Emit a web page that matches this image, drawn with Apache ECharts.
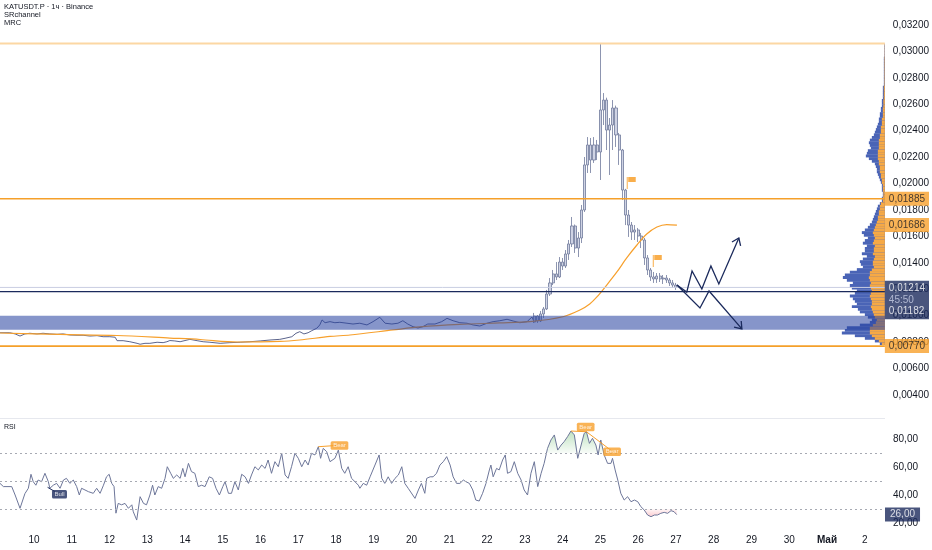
<!DOCTYPE html>
<html><head><meta charset="utf-8">
<script src="https://cdn.jsdelivr.net/npm/echarts@6/dist/echarts.min.js"></script>
<style>html,body{margin:0;padding:0;background:#fff}#c{width:932px;height:550px}</style>
</head><body><div id="c"></div><script>
// ---------- data ----------
const dayTicks = [10,11,12,13,14,15,16,17,18,19,20,21,22,23,24,25,26,27,28,29,30,31,32];
const priceTicks = [0.004,0.006,0.008,0.010,0.012,0.014,0.016,0.018,0.020,0.022,0.024,0.026,0.028,0.030,0.032];
const rsiTicks = [20,40,60,80];
const rsiLevels = [70,50,30];

// close path (April days, price) for the quiet part
const closeLine = [
[9.10,0.00871],[9.36,0.00871],[9.50,0.00862],[9.63,0.00846],[9.76,0.00862],[9.89,0.00867],[10.08,0.00862],[10.24,0.00867],
[10.42,0.00862],[10.61,0.00859],[10.77,0.00862],[10.95,0.00854],[11.14,0.00852],[11.30,0.00852],[11.48,0.00846],[11.67,0.00849],
[11.83,0.00841],[12.01,0.00841],[12.15,0.00837],[12.20,0.00811],[12.36,0.00811],[12.54,0.00803],[12.73,0.00791],[12.81,0.00784],
[12.94,0.00791],[13.07,0.00791],[13.26,0.00799],[13.42,0.00796],[13.52,0.00803],[13.60,0.00812],[13.73,0.00809],[13.87,0.00803],
[14.13,0.00821],[14.32,0.00811],[14.48,0.00803],[14.66,0.00799],[14.93,0.00791],[15.19,0.00796],[15.46,0.00799],[15.72,0.00803],
[15.99,0.00809],[16.25,0.00816],[16.51,0.00821],[16.65,0.00829],[16.83,0.00841],[16.94,0.00867],[17.04,0.00879],[17.15,0.00862],
[17.26,0.00871],[17.36,0.00887],[17.49,0.00905],[17.57,0.00930],[17.63,0.00968],[17.71,0.00947],[17.84,0.00955],[17.97,0.00947],
[18.10,0.00950],[18.29,0.00943],[18.45,0.00937],[18.63,0.00943],[18.82,0.00930],[18.98,0.00955],[19.16,0.00988],[19.30,0.00943],
[19.48,0.00937],[19.64,0.00943],[19.77,0.00962],[19.90,0.00937],[20.04,0.00917],[20.17,0.00907],[20.30,0.00917],[20.43,0.00937],
[20.62,0.00937],[20.80,0.00955],[20.94,0.00980],[21.10,0.00962],[21.28,0.00947],[21.47,0.00943],[21.63,0.00930],[21.81,0.00922],
[22.00,0.00943],[22.16,0.00955],[22.34,0.00962],[22.53,0.00973],[22.69,0.00960],[22.87,0.00947],[23.06,0.00955],[23.19,0.00990],
[23.25,0.00952]
];

// 2h candles from 23.25: [open, close, low, high]
const candleStart = 23.25;
const candleStepDays = 1 / 12;
const candles = [
[0.00952,0.00998,0.00945,0.01021],[0.00998,0.00960,0.00945,0.01005],[0.00960,0.01013,0.00952,0.01036],[0.01013,0.01051,0.00983,0.01066],
[0.01051,0.01164,0.01043,0.01195],[0.01164,0.01248,0.01149,0.01285],[0.01248,0.01316,0.01232,0.01346],[0.01316,0.01293,0.01270,0.01406],
[0.01293,0.01406,0.01285,0.01444],[0.01406,0.01376,0.01346,0.01437],[0.01376,0.01467,0.01361,0.01497],[0.01467,0.01543,0.01422,0.01573],
[0.01543,0.01679,0.01520,0.01747],[0.01679,0.01512,0.01475,0.01690],[0.01512,0.01588,0.01444,0.01633],[0.01588,0.01800,0.01550,0.01838],
[0.01800,0.02141,0.01785,0.02201],[0.02141,0.02292,0.02080,0.02352],[0.02292,0.02178,0.02080,0.02345],[0.02178,0.02292,0.02156,0.02352],
[0.02292,0.02239,0.02178,0.02330],[0.02239,0.02557,0.02027,0.03064],[0.02557,0.02632,0.02443,0.02685],[0.02632,0.02405,0.02254,0.02650],
[0.02405,0.02443,0.02065,0.02496],[0.02443,0.02572,0.02254,0.02632],[0.02572,0.02368,0.02277,0.02590],[0.02368,0.02254,0.02141,0.02383],
[0.02254,0.01951,0.01876,0.02262],[0.01951,0.01762,0.01686,0.01960],[0.01762,0.01686,0.01596,0.01800],[0.01686,0.01633,0.01573,0.01709],
[0.01633,0.01649,0.01573,0.01686],[0.01649,0.01603,0.01558,0.01664],[0.01603,0.01573,0.01512,0.01626],[0.01573,0.01437,0.01384,0.01588],
[0.01437,0.01346,0.01308,0.01459],[0.01346,0.01293,0.01263,0.01361],[0.01293,0.01278,0.01248,0.01331],[0.01278,0.01300,0.01248,0.01323],
[0.01300,0.01278,0.01255,0.01323],[0.01278,0.01285,0.01240,0.01308],[0.01285,0.01270,0.01248,0.01308],[0.01270,0.01248,0.01225,0.01285],
[0.01248,0.01232,0.01210,0.01270],[0.01232,0.01214,0.01195,0.01248]
];

// MRC mean line
const mrcLine = [
[9.10,0.00869],[10.69,0.00858],[12.20,0.00850],[13.60,0.00831],[14.40,0.00820],[15.38,0.00801],[16.51,0.00805],[17.04,0.00816],
[17.84,0.00843],[18.37,0.00854],[19.51,0.00892],[20.22,0.00915],[21.28,0.00934],[22.34,0.00945],[23.14,0.00955],[24.01,0.00992],
[24.46,0.01043],[24.72,0.01089],[24.91,0.01142],[25.17,0.01232],[25.44,0.01331],[25.70,0.01437],[25.97,0.01535],[26.23,0.01618],
[26.50,0.01671],[26.76,0.01690],[27.03,0.01686]
];

// horizontal levels
const levelTop = 0.0306;
const levelSR = 0.01885;
const levelSupport = 0.01182;
const levelLow = 0.0077;
const bandTop = 0.0100;
const bandBottom = 0.00894;
const timeLeft = '45:50';

// drawn zigzag projections
const arrowUp = [[27.03,0.01232],[27.29,0.01179],[27.43,0.01338],[27.69,0.01202],[27.93,0.01376],[28.14,0.01240],[28.67,0.01588]];
const arrowDown = [[27.03,0.01232],[27.64,0.01058],[27.88,0.01187],[28.75,0.00900]];
const flags = [[25.70,0.02050],[26.39,0.01459]];

// volume profile, bins of 0.0002 from 0.0078
const profileStart = 0.0078;
const profileBin = 0.0002;
const profileTotal = [5,
10,20,30,43,40, 38,25,15,13,17, 20,25,27,33,28, 30,32,35,30,28, 33,35,32,38,42,
40,35,28,22,24, 25,22,18,23,20, 20,18,22,20,17, 21,23,20,17,15, 13,12,11,10,9,
8,7,5,3,3, 2,2,3,3,3, 4,5,6,7,8, 8,9,10,13,16, 19,18,17,14,15,
16,15,13,11,10, 9,8,7,6,6, 5,5,4,4,3, 3,3,2,2,2, 2,2,1,1,1,
1,1,1,1,1, 1,1,1,0.5,0.5, 0.5,0.5,0.5];
const profileOrange = [3,
6,10,13,15,15, 15,12,9,8,10, 11,12,13,14,13, 13,14,15,14,13, 14,15,14,15,16,
15,15,13,11,12, 12,11,10,12,11, 11,10,12,11,10, 11,12,11,10,9, 8,7,7,6,6,
5,5,4,2,2, 1.5,1.5,2,2,2, 3,3,4,4,5, 5,5,6,6,7, 7,7,7,6,6,
6,6,5,5,4, 4,4,3,3,3, 2,2,2,2,1.5, 1.5,1.5,1,1,1, 1,1,0.5,0.5,0.5,
0.5,0.5,0.5,0.5,0.5, 0.5,0.5,0.5,0.3,0.3, 0.3,0.3,0.3];

// RSI
const rsi = [
[9.10,48.3],[9.19,46],[9.41,46],[9.50,40],[9.63,30.5],[9.76,41],[9.85,44.8],[9.92,54.8],[9.98,49.5],[10.05,47],[10.11,50.7],[10.20,49.5],
[10.29,55.5],[10.38,49.5],[10.42,44.8],[10.51,47],[10.60,48.3],[10.69,44.8],[10.78,50.7],[10.86,51.9],[10.95,48.3],[11.04,50.7],[11.13,46],
[11.20,40],[11.26,44.8],[11.35,43.6],[11.44,42.4],[11.57,41.2],[11.66,44.8],[11.75,41.2],[11.84,47],[11.92,53],[11.99,54.8],[12.06,48.3],
[12.12,46],[12.17,27],[12.23,34],[12.32,33],[12.41,34],[12.50,30.5],[12.59,33],[12.63,28],[12.72,22.1],[12.81,38.8],[12.90,34],[12.98,33],
[13.07,40],[13.14,47],[13.20,40],[13.29,46],[13.38,44.8],[13.47,51.9],[13.53,60.2],[13.62,55.5],[13.69,51.9],[13.78,54.3],[13.87,51.9],
[13.94,59],[14.00,53],[14.09,62.6],[14.17,56.7],[14.26,55.5],[14.35,46],[14.44,47],[14.53,46],[14.64,53],[14.73,51.9],[14.82,44.8],
[14.91,40],[15.00,46],[15.06,49.5],[15.15,41.2],[15.23,41.2],[15.32,49.5],[15.41,43.6],[15.50,54.8],[15.59,53],[15.68,48.3],[15.76,54.3],
[15.85,60.2],[15.94,57.9],[16.03,61.4],[16.12,59],[16.20,65],[16.29,55.5],[16.38,63.8],[16.47,60.2],[16.56,69.8],[16.65,54.3],[16.73,51.9],
[16.82,60.2],[16.91,69.8],[17.00,66.2],[17.09,60.2],[17.18,65],[17.26,61.4],[17.35,69.8],[17.44,68.6],[17.53,74.5],[17.59,66.2],[17.66,73.3],
[17.75,71],[17.84,63.8],[17.97,66.2],[18.06,72.1],[18.15,59],[18.23,55.5],[18.32,60.2],[18.41,51.9],[18.50,49.5],[18.59,47],[18.63,44.8],
[18.72,48.3],[18.81,47],[18.90,53],[19.03,61.4],[19.14,68.6],[19.21,51.9],[19.29,48.3],[19.38,53],[19.47,48.3],[19.56,51.9],[19.65,54.3],
[19.74,60.2],[19.82,48.3],[19.91,44.8],[20.09,37.6],[20.18,43.6],[20.26,48.3],[20.35,41.2],[20.40,51.9],[20.49,53],[20.57,53],[20.66,55.5],
[20.75,61.4],[20.84,63.8],[20.93,67.4],[21.02,61.4],[21.10,53],[21.19,48.3],[21.28,48.3],[21.37,50.7],[21.44,49.5],[21.53,48.3],[21.62,43.6],
[21.70,36.4],[21.79,35.7],[21.88,41.2],[21.97,48.3],[22.06,57.9],[22.10,61.4],[22.16,53],[22.25,59],[22.32,57.9],[22.41,65],[22.48,68.6],
[22.54,55.5],[22.63,56.7],[22.72,63.8],[22.81,55.5],[22.90,50.7],[22.98,43.6],[23.07,40],[23.16,55.5],[23.25,63.8],[23.34,46],[23.43,55.5],
[23.51,62.6],[23.60,73.3],[23.69,79.3],[23.78,82.9],[23.87,72.1],[23.96,75.7],[24.04,78.1],[24.13,81.7],[24.22,85.7],[24.31,82.9],[24.40,66.2],
[24.49,75.7],[24.57,84],[24.63,85.2],[24.71,76.9],[24.79,80.5],[24.88,75.7],[24.94,68.6],[25.01,79.3],[25.10,68.6],[25.19,62.6],[25.28,62.6],
[25.32,66.2],[25.39,57.9],[25.46,50.7],[25.54,41.2],[25.63,36.4],[25.72,38.8],[25.81,35.2],[25.90,36.4],[25.99,35.2],[26.07,31.7],[26.16,29.3],
[26.25,25.7],[26.34,24.5],[26.43,25.7],[26.51,25.7],[26.60,26.9],[26.69,27.6],[26.78,26.9],[26.87,28.8],[26.95,28.1],[27.02,26.0]
];
const rsiLast = 26.0;
const overboughtSpan = [23.55, 25.35];
const oversoldSpan = [26.12, 27.05];
// divergence marks
const divLines = [
  {from:[10.36,45.5], to:[10.55,42.5], color:'#1b2a5c'},
  {from:[17.53,74.5], to:[18.02,75.4], color:'#f7a02c'},
  {from:[24.22,85.7], to:[24.63,85.2], color:'#f7a02c'},
  {from:[24.63,85.2], to:[25.30,71.5], color:'#f7a02c'}
];
const divLabels = [
  {at:[10.675,40.5], text:'Bull', bg:'#1b2a5c'},
  {at:[18.09,75.4], text:'Bear', bg:'#f7a02c'},
  {at:[24.61,88.6], text:'Bear', bg:'#f7a02c'},
  {at:[25.31,70.9], text:'Bear', bg:'#f7a02c'}
];

// ---------- chart ----------
const X0 = 9.0996, X1 = 32.537;
const FONT = 'Liberation Sans, Arial, sans-serif';
const fmtPrice = v => v.toFixed(5).replace('.', ',');
const fmtRsi = v => v.toFixed(2).replace('.', ',');
const ORANGE = '#f7a02c', NAVY = '#1b2a5c';

const chart = echarts.init(document.getElementById('c'), null, {renderer:'canvas'});

const candleData = candles.map((c, i) => [candleStart + i * candleStepDays, c[0], c[1], c[2], c[3]]);
const lastClose = candles[candles.length - 1][1];
const mrcEnd = mrcLine[mrcLine.length - 1][1];
const profileData = profileTotal.map((t, i) => [profileStart + i * profileBin, t, profileOrange[i]]);
const arrowPaths = [arrowUp, arrowDown];
const levelLines = [
  {v:levelTop, color:'#fcd7a3', width:1.8},
  {v:levelSR, color:'#f5a02a', width:1.4},
  {v:lastClose, color:'#c9cee2', width:1},
  {v:levelSupport, color:NAVY, width:1.3},
  {v:levelLow, color:'#f5a02a', width:1.6}
];

function fillSeries(points, level, stops) {
  return {
    type:'custom', xAxisIndex:1, yAxisIndex:1, silent:true, z:1, data: points,
    renderItem: function (params, api) {
      if (params.dataIndex !== 0) return null;
      const pts = points.map(p => api.coord([p[0], level > 50 ? Math.max(p[1], level) : Math.min(p[1], level)]));
      pts.push(api.coord([points[points.length - 1][0], level]));
      pts.push(api.coord([points[0][0], level]));
      return {type:'polygon', shape:{points: pts}, style:{fill: new echarts.graphic.LinearGradient(0, 0, 0, 1, stops)}};
    }
  };
}

const priceLabelBase = {show:true, position:'right', distance:0, fontSize:10, fontFamily:FONT, padding:[2,4,1,4], lineHeight:11};

const option = {
  animation:false,
  backgroundColor:'#ffffff',
  textStyle:{fontFamily:FONT},
  grid:[
    {left:0, right:47, top:0, height:418},
    {left:0, right:47, top:419, height:109}
  ],
  xAxis:[
    {type:'value', gridIndex:0, min:X0, max:X1, show:true, axisLine:{show:false}, axisTick:{show:false}, axisLabel:{show:false}, splitLine:{show:false}},
    {type:'value', gridIndex:1, min:X0, max:X1, axisLine:{show:false}, axisTick:{show:false}, splitLine:{show:false},
      axisLabel:{customValues:dayTicks, color:'#131722', fontSize:10, margin:7,
        formatter: v => v === 31 ? '{b|Май}' : String(v > 31 ? v - 30 : v),
        rich:{b:{fontWeight:'bold', fontSize:10, color:'#131722'}}}},
    {type:'value', gridIndex:0, min:0, max:885, inverse:true, show:false}
  ],
  yAxis:[
    {type:'value', gridIndex:0, position:'right', min:0.002258, max:0.033892, axisLine:{show:false}, axisTick:{show:false}, splitLine:{show:false},
      axisLabel:{customValues:priceTicks, formatter:fmtPrice, color:'#131722', fontSize:10, margin:8}},
    {type:'value', gridIndex:1, position:'right', min:16.43, max:94.29, axisLine:{show:false}, axisTick:{show:false}, splitLine:{show:false},
      axisLabel:{customValues:rsiTicks, formatter:fmtRsi, color:'#131722', fontSize:10, margin:8}}
  ],
  graphic:[
    {type:'text', left:4, top:3, style:{text:'KATUSDT.P · 1ч · Binance', fontSize:7.5, fill:'#131722', fontFamily:FONT}},
    {type:'text', left:4, top:11, style:{text:'SRchannel', fontSize:7.5, fill:'#131722', fontFamily:FONT}},
    {type:'text', left:4, top:19, style:{text:'MRC', fontSize:7.5, fill:'#131722', fontFamily:FONT}},
    {type:'text', left:4, top:424, style:{text:'RSI', fontSize:7, fill:'#131722', fontFamily:FONT}},
    {type:'rect', left:0, top:418, shape:{width:885, height:1}, style:{fill:'#e6e8ee'}}
  ],
  series:[
    // volume profile
    {type:'custom', xAxisIndex:2, yAxisIndex:0, z:3, silent:true, data:profileData, encode:{x:1, y:0},
      renderItem: function (params, api) {
        const lo = api.value(0), tot = api.value(1), org = api.value(2);
        const r = api.coord([0, lo]);
        const l = api.coord([tot, lo + profileBin]);
        const o = api.coord([org, lo + profileBin]);
        const h = r[1] - l[1] + 0.3;
        return {type:'group', children:[
          {type:'rect', shape:{x:l[0], y:l[1], width:r[0]-l[0], height:h}, style:{fill:'#4a64b6'}},
          {type:'rect', shape:{x:o[0], y:o[1], width:r[0]-o[0], height:h}, style:{fill:'#f6a945'}}
        ]};
      }},
    // price close path
    {type:'line', xAxisIndex:0, yAxisIndex:0, data:closeLine, showSymbol:false, z:4,
      lineStyle:{color:'#5b648c', width:1}},
    // candles
    {type:'candlestick', xAxisIndex:0, yAxisIndex:0, data:candleData, encode:{x:0, y:[1,2,3,4]}, barWidth:2.6, z:4,
      itemStyle:{color:'#cfd3e4', color0:'#cfd3e4', borderColor:'#707a9c', borderColor0:'#707a9c', borderWidth:0.8}},
    // MRC curve
    {type:'line', xAxisIndex:0, yAxisIndex:0, data:mrcLine, showSymbol:false, smooth:0.3, z:5,
      lineStyle:{color:ORANGE, width:1.2}},
    // horizontal levels
    {type:'custom', xAxisIndex:0, yAxisIndex:0, z:6, silent:true, data:levelLines.map(l => [X0, l.v]),
      renderItem: function (params, api) {
        const L = levelLines[params.dataIndex];
        const a = api.coord([X0, L.v]), b = api.coord([X1, L.v]);
        return {type:'line', shape:{x1:a[0], y1:a[1], x2:b[0], y2:b[1]}, style:{stroke:L.color, lineWidth:L.width}};
      }},
    // SR band
    {type:'custom', xAxisIndex:0, yAxisIndex:0, z:10, silent:true, data:[[bandTop, bandBottom]],
      renderItem: function (params, api) {
        const a = api.coord([X0, api.value(0)]);
        const b = api.coord([X1, api.value(1)]);
        return {type:'rect', shape:{x:a[0], y:a[1], width:b[0]-a[0], height:b[1]-a[1]}, style:{fill:'rgba(40,66,160,0.56)'}};
      }},
    // arrows (polyline + open chevron head)
    {type:'custom', xAxisIndex:0, yAxisIndex:0, z:12, silent:true,
      data: arrowPaths.map(p => p[p.length - 1]),
      renderItem: function (params, api) {
        const pts = arrowPaths[params.dataIndex].map(p => api.coord(p));
        const a = pts[pts.length - 2], b = pts[pts.length - 1];
        const ang = Math.atan2(b[1] - a[1], b[0] - a[0]);
        const L = 8, s = Math.PI / 5;
        const h1 = [b[0] - L * Math.cos(ang - s), b[1] - L * Math.sin(ang - s)];
        const h2 = [b[0] - L * Math.cos(ang + s), b[1] - L * Math.sin(ang + s)];
        const st = {stroke:NAVY, lineWidth:1.3, fill:null};
        return {type:'group', children:[
          {type:'polyline', shape:{points:pts}, style:st},
          {type:'polyline', shape:{points:[h1, b, h2]}, style:st}
        ]};
      }},
    // flags
    {type:'scatter', xAxisIndex:0, yAxisIndex:0, z:12, silent:true, data:flags,
      symbol:'path://M0,0 L1,0 L1,12 L0,12 Z M1.5,0 L9,0 L9,5 L1.5,5 Z', symbolSize:[9,12], symbolOffset:[4.5,6],
      itemStyle:{color:'#f79a1e'}},
    // price axis tags
    {type:'scatter', xAxisIndex:0, yAxisIndex:0, symbolSize:0, clip:false, z:20, silent:true,
      label:priceLabelBase,
      data:[
        {value:[X1, levelSR], label:{formatter:p => fmtPrice(p.value[1]), backgroundColor:ORANGE, color:'#131722'}},
        {value:[X1, mrcEnd], label:{formatter:p => fmtPrice(p.value[1]), backgroundColor:ORANGE, color:'#131722'}},
        {value:[X1, lastClose], label:{formatter:'{a|' + fmtPrice(lastClose) + '}\n{b|' + timeLeft + '}\n{a|' + fmtPrice(levelSupport) + '}',
          backgroundColor:NAVY, color:'#ffffff', offset:[0,12.5], padding:[2,4,2,4],
          rich:{a:{color:'#ffffff', fontSize:10, lineHeight:11.5}, b:{color:'#c9cfe6', fontSize:10, lineHeight:11.5}}}},
        {value:[X1, levelLow], label:{formatter:p => fmtPrice(p.value[1]), backgroundColor:ORANGE, color:'#131722'}}
      ]},
    // RSI fills
    fillSeries(rsi.filter(p => p[0] >= overboughtSpan[0] && p[0] <= overboughtSpan[1]), 70,
      [{offset:0, color:'rgba(76,175,80,0.35)'}, {offset:1, color:'rgba(76,175,80,0.04)'}]),
    fillSeries(rsi.filter(p => p[0] >= oversoldSpan[0] && p[0] <= oversoldSpan[1]), 30,
      [{offset:0, color:'rgba(242,54,69,0.04)'}, {offset:1, color:'rgba(242,54,69,0.25)'}]),
    // RSI line
    {type:'line', xAxisIndex:1, yAxisIndex:1, data:rsi, showSymbol:false, z:4,
      lineStyle:{color:'#6d7699', width:1},
      markLine:{silent:true, symbol:['none','none'], label:{show:false}, animation:false, precision:4,
        lineStyle:{color:'#a7aab3', width:1, type:[2,3]},
        data: rsiLevels.map(v => ({yAxis:v}))}},
    // divergence lines
    ...divLines.map(d => ({type:'line', xAxisIndex:1, yAxisIndex:1, data:[d.from, d.to], showSymbol:false, z:5, silent:true,
      lineStyle:{color:d.color, width:1}})),
    // divergence labels
    {type:'scatter', xAxisIndex:1, yAxisIndex:1, symbolSize:0, z:15, silent:true,
      data: divLabels.map(d => ({value:d.at, name:d.text, label:{backgroundColor:d.bg}})),
      label:{show:true, position:'inside', formatter:p => p.name, color:'#ffffff', fontSize:6, padding:[1.5,2.5,1,2.5], borderRadius:1.5, fontFamily:FONT}},
    // RSI tag
    {type:'scatter', xAxisIndex:1, yAxisIndex:1, symbolSize:0, clip:false, z:20, silent:true,
      data:[[X1, rsiLast]],
      label:{show:true, position:'right', distance:0, formatter:p => fmtRsi(p.value[1]), backgroundColor:NAVY, color:'#ffffff',
        fontSize:10, padding:[2,5,1,5], lineHeight:11, fontFamily:FONT}}
  ]
};
chart.setOption(option);
</script></body></html>
